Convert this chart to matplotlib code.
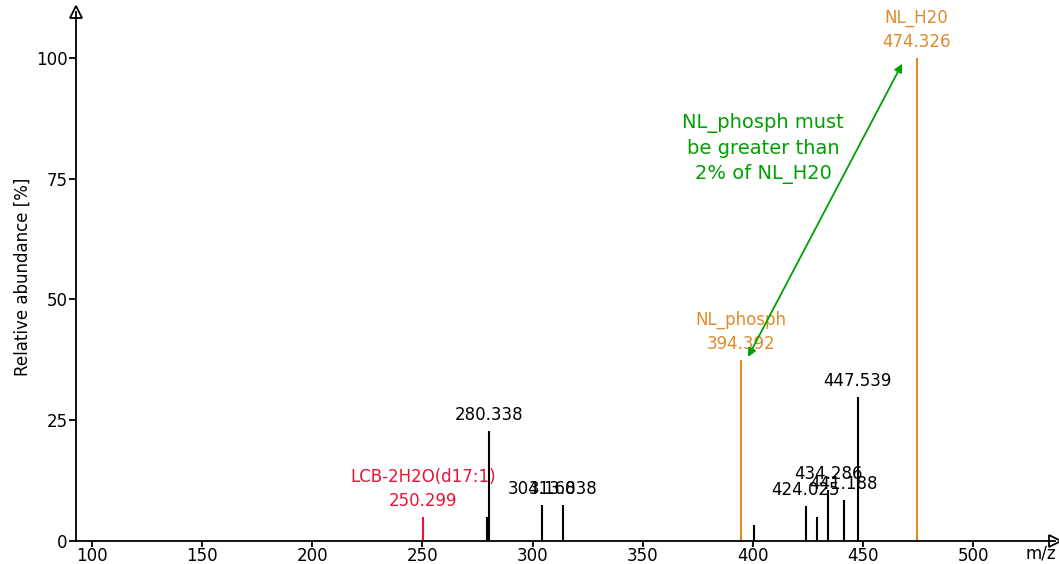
import matplotlib
matplotlib.use("Agg")
import matplotlib.pyplot as plt

# Spectrum peaks
mz = [250.299, 279.2, 280.338, 304.160, 313.838, 394.392, 400.6, 424.025,
      429.0, 434.286, 441.188, 447.539, 474.326]
intensity = [5.0, 5.0, 22.8, 7.5, 7.5, 37.5, 3.3, 7.2, 5.0, 10.6, 8.5, 29.8, 100.0]
kind = ["lcb", "plain", "plain", "plain", "plain", "nl", "plain", "plain",
        "plain", "plain", "plain", "plain", "nl"]
peak_labels = ["LCB-2H2O(d17:1)\n250.299", "", "280.338", "304.160", "313.838",
               "NL_phosph\n394.392", "", "424.025", "", "434.286", "441.188",
               "447.539", "NL_H20\n474.326"]

x_ticks = [100, 150, 200, 250, 300, 350, 400, 450, 500]
y_ticks = [0, 25, 50, 75, 100]

colors = {"plain": "black", "lcb": "#ee1133", "nl": "#e08a2a"}
green = "#00a000"
fs = 12

fig = plt.figure(figsize=(10.59, 5.64), dpi=100)
ax = fig.add_axes([0.0718, 0.0408, 0.9245, 0.938])
ax.set_xlim(92.74, 537.2)
ax.set_ylim(0, 109.5)

for m, h, k, lab in zip(mz, intensity, kind, peak_labels):
    c = colors[k]
    ax.vlines(m, 0, h, color=c, lw=1.5)
    if lab:
        ax.annotate(lab, (m, h), xytext=(0, 5), textcoords="offset points",
                    ha="center", va="bottom", fontsize=fs, color=c,
                    linespacing=1.45)

# Annotation arrow between the two neutral losses
ax.annotate("", xy=(397.8, 38.1), xytext=(467.8, 98.8),
            arrowprops=dict(arrowstyle="<|-|>", color=green, lw=1.3,
                            mutation_scale=12, shrinkA=0, shrinkB=0))
ax.text(404.7, 81.2, "NL_phosph must\nbe greater than\n2% of NL_H20",
        ha="center", va="center", fontsize=14, color=green, linespacing=1.4)

for s in ["top", "right"]:
    ax.spines[s].set_visible(False)
for s in ["left", "bottom"]:
    ax.spines[s].set_linewidth(1.3)

ax.set_xticks(x_ticks)
ax.set_yticks(y_ticks)
ax.tick_params(axis="x", direction="out", length=4, width=1.3,
               labelsize=fs, pad=0)
ax.tick_params(axis="y", direction="out", length=5, width=1.3,
               labelsize=fs, pad=1)

# Arrow heads at the ends of the axes
ax.plot(1, 0, marker=">", ms=8, mfc="white", mec="black", mew=1.3,
        transform=ax.transAxes, clip_on=False)
ax.plot(0, 1, marker="^", ms=8, mfc="white", mec="black", mew=1.3,
        transform=ax.transAxes, clip_on=False)

ax.set_ylabel("Relative abundance [%]", fontsize=fs, labelpad=3)
ax.text(0.985, -0.006, "m/z", transform=ax.transAxes, ha="center", va="top",
        fontsize=fs)

fig.savefig("out.png", dpi=100)
